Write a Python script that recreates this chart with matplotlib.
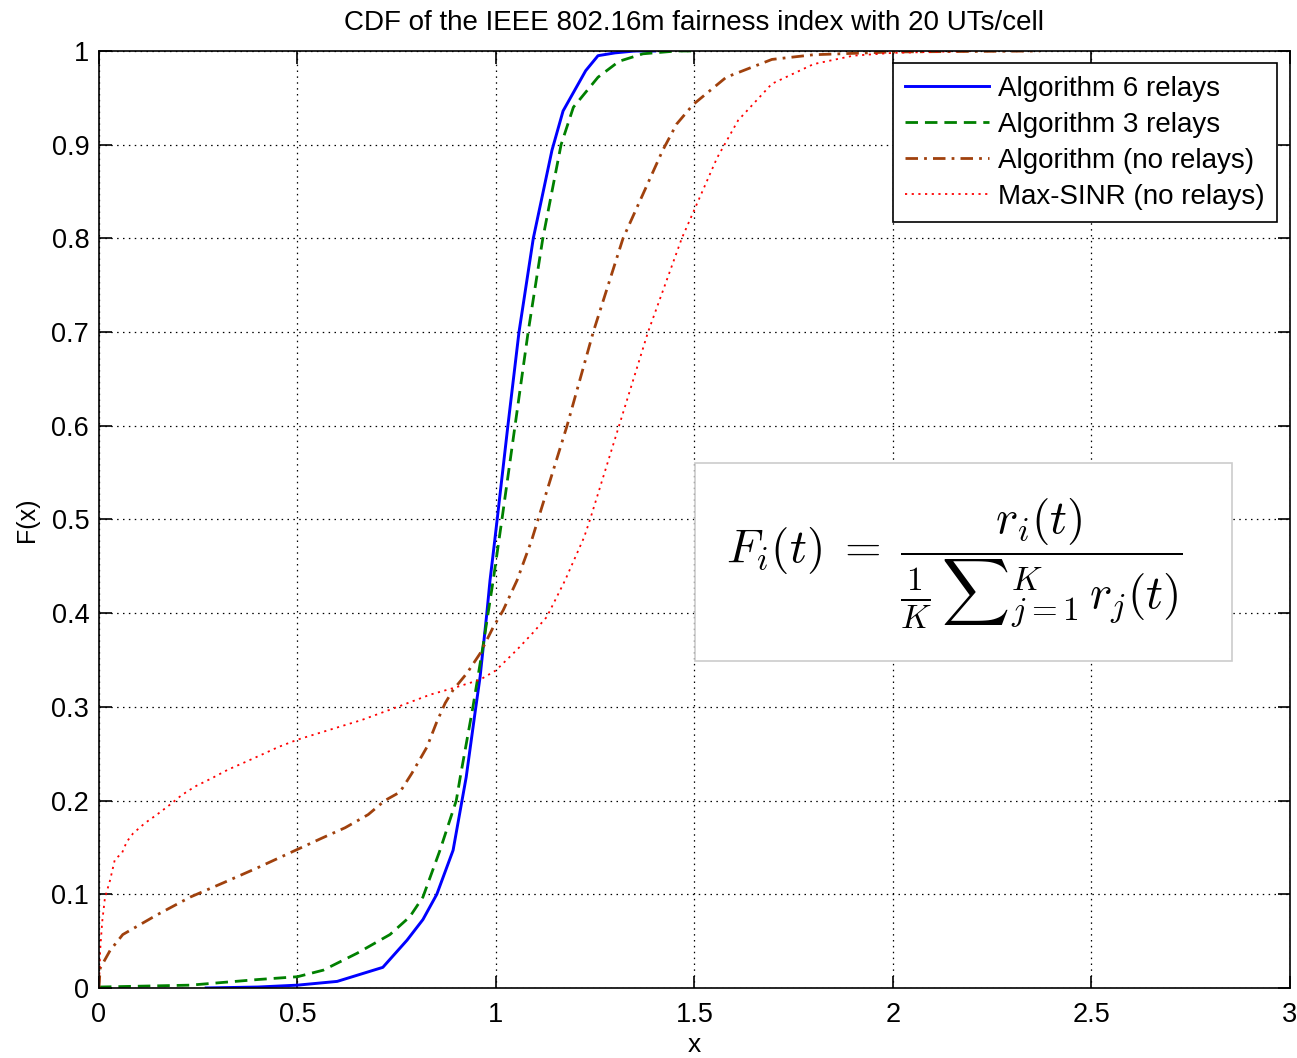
import numpy as np
import matplotlib
matplotlib.use("Agg")
import matplotlib.pyplot as plt
from matplotlib.patches import Rectangle

plt.rcParams['font.family'] = ['Liberation Sans', 'DejaVu Sans']
plt.rcParams['mathtext.fontset'] = 'cm'

# empirical CDF curves of the fairness index (x, F(x))
x_alg6 = [0.27, 0.40, 0.50, 0.60, 0.715, 0.776, 0.816, 0.851, 0.892, 0.925, 0.947, 0.96,
          0.977, 0.985, 0.997, 1.003, 1.03, 1.058, 1.094, 1.141, 1.169, 1.226, 1.257,
          1.30, 1.35, 1.40]
F_alg6 = [0.0, 0.001, 0.003, 0.007, 0.022, 0.051, 0.073, 0.10, 0.147, 0.225, 0.293, 0.332,
          0.40, 0.435, 0.478, 0.50, 0.60, 0.70, 0.80, 0.894, 0.936, 0.979, 0.995,
          0.998, 1.0, 1.0]

x_alg3 = [0.0, 0.23, 0.40, 0.50, 0.565, 0.65, 0.733, 0.783, 0.816, 0.859, 0.90, 0.91,
          0.942, 0.967, 0.993, 1.015, 1.048, 1.081, 1.118, 1.164, 1.195, 1.257, 1.31,
          1.37, 1.455, 1.50]
F_alg3 = [0.001, 0.003, 0.009, 0.012, 0.019, 0.037, 0.057, 0.076, 0.097, 0.147, 0.20, 0.225,
          0.30, 0.364, 0.435, 0.50, 0.60, 0.70, 0.80, 0.90, 0.94, 0.972, 0.989,
          0.997, 1.0, 1.0]

x_alg0 = [0.0, 0.003, 0.028, 0.06, 0.146, 0.23, 0.312, 0.398, 0.48, 0.562, 0.62, 0.678,
          0.72, 0.758, 0.788, 0.826, 0.85, 0.872, 0.892, 0.927, 0.96, 0.993, 1.018,
          1.053, 1.09, 1.106, 1.179, 1.245, 1.32, 1.42, 1.455, 1.497, 1.58, 1.695,
          1.80, 2.0, 2.37]
F_alg0 = [0.0, 0.021, 0.04, 0.057, 0.078, 0.097, 0.112, 0.128, 0.144, 0.16, 0.171, 0.185,
          0.20, 0.209, 0.229, 0.257, 0.283, 0.304, 0.318, 0.336, 0.357, 0.385, 0.403,
          0.435, 0.478, 0.50, 0.60, 0.70, 0.80, 0.894, 0.922, 0.943, 0.972, 0.991,
          0.996, 0.999, 1.0]

x_sinr = [0.0, 0.003, 0.008, 0.015, 0.028, 0.04, 0.058, 0.07, 0.086, 0.116, 0.146, 0.174,
          0.209, 0.242, 0.285, 0.325, 0.368, 0.41, 0.451, 0.50, 0.577, 0.662, 0.746,
          0.834, 0.90, 0.96, 1.0, 1.053, 1.093, 1.128, 1.174, 1.222, 1.237, 1.31,
          1.383, 1.468, 1.557, 1.61, 1.695, 1.80, 1.90, 2.0, 2.2]
F_sinr = [0.0, 0.04, 0.07, 0.096, 0.115, 0.137, 0.144, 0.156, 0.165, 0.176, 0.185, 0.194,
          0.206, 0.215, 0.224, 0.233, 0.241, 0.249, 0.257, 0.265, 0.275, 0.286, 0.299,
          0.313, 0.321, 0.329, 0.339, 0.361, 0.379, 0.396, 0.435, 0.481, 0.50, 0.60,
          0.70, 0.80, 0.886, 0.926, 0.965, 0.986, 0.995, 0.998, 1.0]

labels = ['Algorithm 6 relays', 'Algorithm 3 relays', 'Algorithm (no relays)',
          'Max-SINR (no relays)']
x_ticks = [0, 0.5, 1, 1.5, 2, 2.5, 3]
y_ticks = [0, 0.1, 0.2, 0.3, 0.4, 0.5, 0.6, 0.7, 0.8, 0.9, 1]

fig = plt.figure(figsize=(12.97, 10.58), dpi=100)
ax = fig.add_axes([0.0763, 0.0662, 0.9183, 0.8856])

ax.plot(x_alg6, F_alg6, color='#0000ff', lw=2.1, label=labels[0])
ax.plot(x_alg3, F_alg3, color='#008000', lw=2.0, linestyle=(0, (4.5, 2.5)), label=labels[1])
ax.plot(x_alg0, F_alg0, color='#a0410d', lw=2.0, linestyle=(0, (4.5, 2.2, 1.0, 2.2)),
        label=labels[2])
ax.plot(x_sinr, F_sinr, color='#ff0000', lw=1.3, linestyle=(0, (1.2, 2.5)), label=labels[3])

ax.set_xlim(0, 3)
ax.set_ylim(0, 1)
ax.set_xticks(x_ticks)
ax.set_xticklabels(['0', '0.5', '1', '1.5', '2', '2.5', '3'])
ax.set_yticks(y_ticks)
ax.set_yticklabels(['0', '0.1', '0.2', '0.3', '0.4', '0.5', '0.6', '0.7', '0.8', '0.9', '1'])
ax.tick_params(direction='in', length=9, width=1.2, labelsize=19.5, top=True, right=True)
ax.tick_params(axis='x', pad=10)
ax.tick_params(axis='y', pad=7)
ax.grid(True, color='black', linestyle=(0, (1.2, 3.5)), lw=0.9)
for s in ax.spines.values():
    s.set_linewidth(1.2)

ax.set_title('CDF of the IEEE 802.16m fairness index with 20 UTs/cell', fontsize=20, pad=15)
ax.set_xlabel('x', fontsize=19, labelpad=4)
ax.set_ylabel('F(x)', fontsize=18, labelpad=9)

leg = ax.legend(loc='upper right', fontsize=20, handlelength=3.0, handletextpad=0.35,
                labelspacing=0.36, borderaxespad=0.45, borderpad=0.45, fancybox=False,
                framealpha=1)
leg.get_frame().set_edgecolor('black')
leg.get_frame().set_linewidth(1.2)

# boxed formula for the fairness index
ax.add_patch(Rectangle((0.5004, 0.349), 0.451, 0.211, transform=ax.transAxes,
                       facecolor='white', edgecolor='#cccccc', lw=1.2, zorder=4))
ax.text(0.718, 0.4536,
        r'$F_i(t)\;=\;\dfrac{r_i(t)}{\frac{1}{K}\,{\sum}_{j=1}^{K}\,r_j(t)}$',
        transform=ax.transAxes, ha='center', va='center', fontsize=34, zorder=5)

fig.savefig('out.png', dpi=100)
